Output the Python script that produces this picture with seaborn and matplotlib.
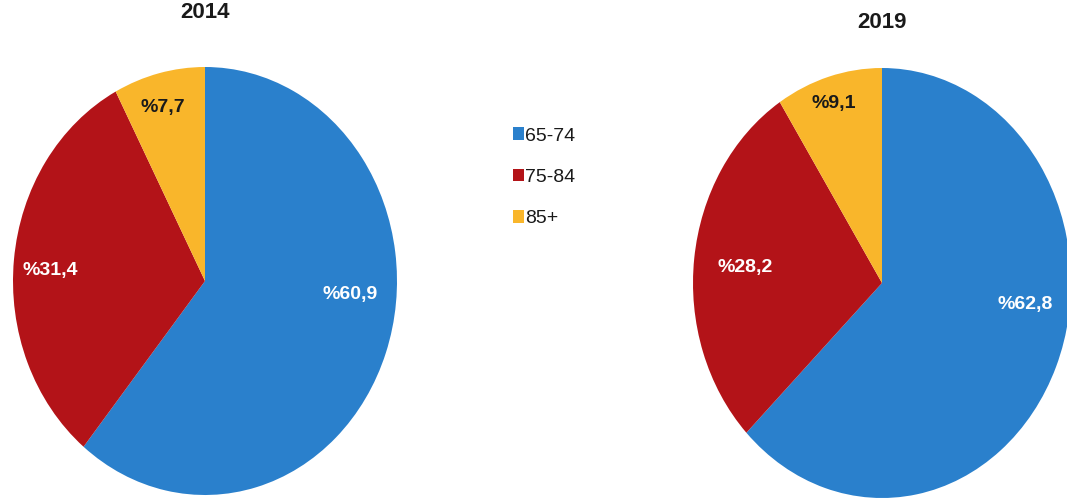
import matplotlib
matplotlib.use("Agg")
import matplotlib.pyplot as plt
from matplotlib import font_manager
from matplotlib.patches import Patch
import seaborn as sns

# Age groups and their shares (%)
age_groups = ["65-74", "75-84", "85+"]
shares_2014 = [60.9, 31.4, 7.7]
shares_2019 = [62.8, 28.2, 9.1]
years = ["2014", "2019"]

sns.set_theme(style="white")
names = {f.name for f in font_manager.fontManager.ttflist}
narrow = "Liberation Sans Narrow" if "Liberation Sans Narrow" in names else "Liberation Sans"
plt.rcParams["font.family"] = [narrow, "DejaVu Sans"]

colors = sns.color_palette(["#2a80cc", "#b31318", "#f9b62b"])
text_colors = ["white", "white", "#1a1a1a"]

fig = plt.figure(figsize=(10.67, 5.04), dpi=100)
W, H = 1067, 504

def add_pie(box, values, label_pos, title, title_y):
    x0, y0, x1, y1 = box
    ax = fig.add_axes([x0 / W, 1 - y1 / H, (x1 - x0) / W, (y1 - y0) / H])
    ax.pie(values, colors=colors, startangle=90, counterclock=False,
           wedgeprops=dict(linewidth=0))
    ax.set_aspect("auto")
    ax.set_xlim(-1, 1)
    ax.set_ylim(-1, 1)
    ax.axis("off")
    for v, (lx, ly), tc in zip(values, label_pos, text_colors):
        ax.text(lx, ly, f"%{v:.1f}".replace(".", ","), ha="center", va="center",
                color=tc, fontsize=14, fontweight="bold")
    fig.text(((x0 + x1) / 2) / W, 1 - title_y / H, title, ha="center",
             va="center", fontsize=16, fontweight="bold", color="#1a1a1a")
    return ax

add_pie((13, 67, 397, 495), shares_2014,
        [(0.755, -0.065), (-0.807, 0.051), (-0.219, 0.813)], years[0], 13)
add_pie((693, 68, 1071, 498), shares_2019,
        [(0.757, -0.102), (-0.725, 0.07), (-0.254, 0.833)], years[1], 23)

handles = [Patch(facecolor=c, edgecolor="none") for c in colors]
fig.legend(handles, age_groups, loc="upper left",
           bbox_to_anchor=(495 / W, 1 - 110 / H), frameon=False,
           fontsize=14, handlelength=0.6, handleheight=0.6, handletextpad=0.05,
           labelspacing=1.25, labelcolor="#1a1a1a")

fig.savefig("out.png", dpi=100, facecolor="white")
